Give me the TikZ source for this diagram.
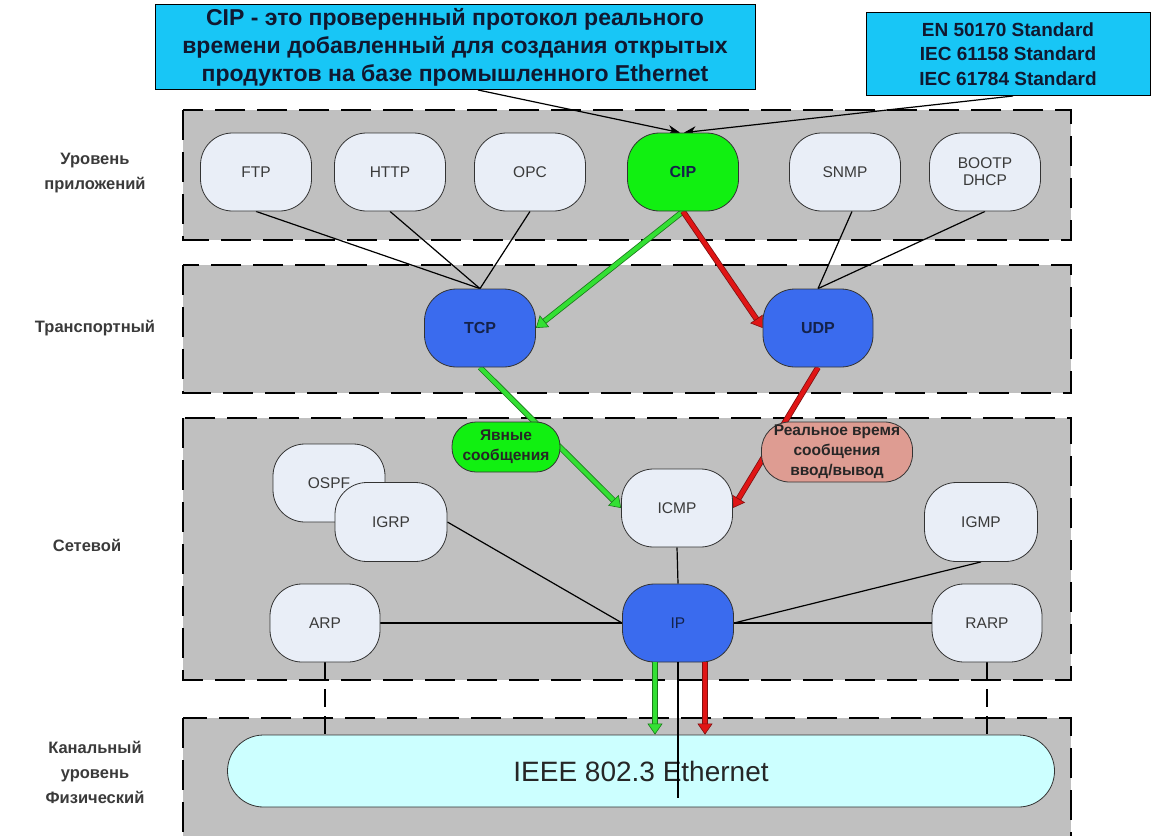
\documentclass[tikz,border=0pt]{standalone}
\usepackage{fontspec}
\setmainfont{Liberation Sans}
\setsansfont{Liberation Sans}
\usetikzlibrary{arrows.meta,calc}
\pgfdeclarelayer{back}\pgfdeclarelayer{lines}\pgfdeclarelayer{front}
\pgfsetlayers{back,lines,main,front}
\definecolor{layergray}{HTML}{C0C0C0}
\definecolor{nodefill}{HTML}{E9EEF7}
\definecolor{cipgreen}{HTML}{11F011}
\definecolor{protoblue}{HTML}{3A6BEE}
\definecolor{calloutblue}{HTML}{18C6F6}
\definecolor{rtsalmon}{HTML}{DE9C92}
\definecolor{ethcyan}{HTML}{CCFFFF}
\definecolor{arrgreen}{HTML}{33E033}
\definecolor{arrgreendk}{HTML}{1A7A1A}
\definecolor{arrred}{HTML}{E01515}
\definecolor{arrreddk}{HTML}{801010}
\definecolor{txtdark}{HTML}{3A3A3A}
\definecolor{txtnavy}{HTML}{14224A}
\definecolor{txtnote}{HTML}{101830}
\tikzset{
  layerbox/.style={fill=layergray, draw=black, line width=2.2pt, dash pattern=on 30pt off 12pt},
  proto/.style={draw=black!80, line width=0.8pt, rounded corners=32pt, minimum width=111pt,
    minimum height=78pt, fill=nodefill, text=txtdark, font=\fontsize{15.5}{17}\selectfont,
    inner sep=0pt, align=center},
  protob/.style={proto, fill=protoblue, text=txtnavy, font=\fontsize{16}{18}\selectfont\bfseries},
  msg/.style={draw=black!80, line width=0.8pt, fill=cipgreen, text=black!85,
    font=\fontsize{15.5}{20}\selectfont\bfseries, align=center, inner sep=0pt},
  callout/.style={draw=black, line width=1pt, fill=calloutblue, text=txtnote, align=center, inner sep=0pt},
  lbl/.style={text=txtdark, font=\fontsize{16.5}{25}\selectfont\bfseries, align=center},
  conn/.style={draw=black, line width=1.2pt},
  garrow/.style={draw=arrgreen, line width=4.2pt,
    preaction={draw=arrgreendk, line width=5.8pt, -, shorten >=9pt},
    -{Triangle[length=11pt,width=15pt,fill=arrgreen,color=arrgreendk,line width=0.6pt]}},
  rarrow/.style={draw=arrred, line width=4.2pt,
    preaction={draw=arrreddk, line width=5.8pt, -, shorten >=9pt},
    -{Triangle[length=11pt,width=15pt,fill=arrred,color=arrreddk,line width=0.6pt]}},
  notearrow/.style={draw=black, line width=1.2pt, -{Stealth[length=12pt,width=10pt]}},
  dconn/.style={draw=black, line width=1.2pt, dash pattern=on 18pt off 9pt}
}
\begin{document}
\begin{tikzpicture}[x=1pt,y=-1pt]
\useasboundingbox (0,0) rectangle (1155,835);
% layer boxes
\begin{pgfonlayer}{back}
\fill[white] (0,0) rectangle (1155,835);
\path[layerbox] (183,110) rectangle (1071,240);
\path[layerbox] (183,265) rectangle (1071,393);
\path[layerbox] (183,418) rectangle (1071,680);
\path[layerbox] (183,718) rectangle (1071,850);
\end{pgfonlayer}
% callouts
\node[callout, minimum width=600pt, minimum height=85pt, font=\fontsize{23}{28}\selectfont\bfseries]
  (note) at (455,47) {CIP - это проверенный протокол реального\\времени добавленный для создания открытых\\продуктов на базе промышленного Ethernet};
\node[callout, minimum width=284pt, minimum height=83pt, font=\fontsize{19}{24.5}\selectfont\bfseries]
  (std) at (1008,54) {EN 50170 Standard\\IEC 61158 Standard\\IEC 61784 Standard};
% left labels
\node[lbl] (l1) at (95,173) {Уровень\\приложений};
\node[lbl] (l2) at (95,328) {Транспортный};
\node[lbl] (l3) at (87,545) {Сетевой};
\node[lbl] (l4) at (95,772) {Канальный\\уровень\\Физический};
% application layer
\node[proto] (FTP) at (256,172) {FTP};
\node[proto] (HTTP) at (390,172) {HTTP};
\node[proto] (OPC) at (530,172) {OPC};
\node[protob, fill=cipgreen] (CIP) at (683,172) {CIP};
\node[proto] (SNMP) at (845,172) {SNMP};
\node[proto] (BOOTP) at (985,172) {BOOTP\\DHCP};
% transport
\node[protob] (TCP) at (480,328) {TCP};
\node[protob, minimum width=110pt] (UDP) at (818,328) {UDP};
% network
\node[msg, minimum width=108pt, minimum height=50pt, rounded corners=24pt] (Yav) at (506,447) {Явные\\сообщения};
\node[msg, fill=rtsalmon, minimum width=151pt, minimum height=60pt, rounded corners=28pt] (RT) at (837,452) {Реальное время\\сообщения\\ввод/вывод};
\node[proto, minimum width=112pt] (OSPF) at (329,483) {OSPF};
\node[proto, minimum width=112pt, minimum height=79pt] (IGRP) at (391,522) {IGRP};
\node[proto] (ICMP) at (677,508) {ICMP};
\node[proto, minimum width=113pt, minimum height=79pt] (IGMP) at (981,522) {IGMP};
\node[proto, minimum width=110pt] (ARP) at (325,623) {ARP};
\node[proto, fill=protoblue, text=txtnavy] (IP) at (678,623) {IP};
\node[proto, minimum width=110pt] (RARP) at (987,623) {RARP};
% link layer
\node[draw=black!80, line width=0.8pt, fill=ethcyan, rounded corners=36pt, minimum width=827pt,
  minimum height=72pt, text=black!85, font=\fontsize{28}{30}\selectfont] (Eth) at (641,771) {IEEE 802.3 Ethernet};
% connectors
\begin{pgfonlayer}{lines}
\draw[conn] (FTP.south) -- (TCP.north);
\draw[conn] (HTTP.south) -- (TCP.north);
\draw[conn] (OPC.south) -- (TCP.north);
\draw[conn] ([xshift=7pt]SNMP.south) -- (UDP.north);
\draw[conn] (BOOTP.south) -- (UDP.north);
\draw[garrow] (CIP.south) -- (TCP.east);
\draw[rarrow] (CIP.south) -- (UDP.west);
\draw[garrow] (TCP.south) -- (ICMP.west);
\draw[rarrow] (UDP.south) -- (ICMP.east);
\draw[conn] (IGRP.east) -- (IP.west);
\draw[conn] (ARP.east) -- (IP.west);
\draw[conn] (ICMP.south) -- (IP.north);
\draw[conn] (IGMP.south) -- (IP.east);
\draw[conn] (RARP.west) -- (IP.east);
\draw[dconn] (ARP.south) -- (ARP.south |- Eth.north);
\draw[dconn] (RARP.south) -- (RARP.south |- Eth.north);
\draw[notearrow] ([xshift=23pt]note.south) -- ([xshift=-3pt]CIP.north);
\draw[notearrow] ([xshift=5pt]std.south) -- ([xshift=1pt]CIP.north);
\end{pgfonlayer}
\begin{pgfonlayer}{front}
\coordinate (ethend) at (678,798);
\draw[conn] (IP.south) -- (ethend);
\draw[garrow] ([xshift=-23pt]IP.south) -- ([xshift=-23pt]IP.south |- Eth.north);
\draw[rarrow] ([xshift=27pt]IP.south) -- ([xshift=27pt]IP.south |- Eth.north);
\end{pgfonlayer}
\end{tikzpicture}
\end{document}
